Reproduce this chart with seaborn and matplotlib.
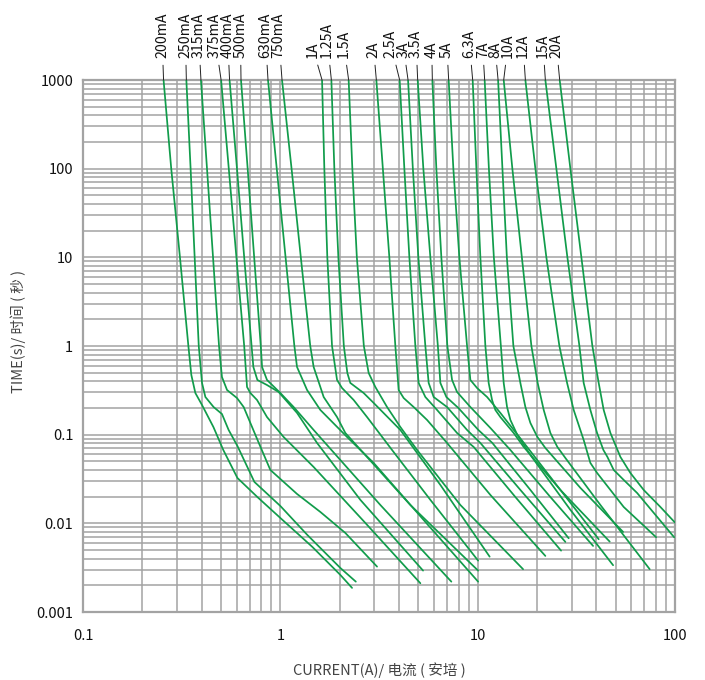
import numpy as np
import pandas as pd
import matplotlib
matplotlib.use("Agg")
import matplotlib.pyplot as plt
import seaborn as sns
from matplotlib.ticker import FixedLocator, NullFormatter, LogLocator

sns.set_theme(style="white")
plt.rcParams["font.family"] = ["Noto Sans CJK SC", "DejaVu Sans"]

# ---------------- data (current in A, time in s) ----------------
ratings = ["200mA", "250mA", "315mA", "375mA", "400mA", "500mA", "630mA", "750mA",
           "1A", "1.25A", "1.5A", "2A", "2.5A", "3A", "3.5A", "4A", "5A",
           "6.3A", "7A", "8A", "10A", "12A", "15A", "20A"]

cur_200mA = [0.256, 0.280, 0.310, 0.342, 0.354, 0.371, 0.401, 0.458, 0.514, 0.606, 0.765, 1.0, 1.453, 2.014, 2.309]
t_200mA = [1000, 100, 10, 1, 0.471, 0.295, 0.216, 0.122, 0.0672, 0.0325, 0.0198, 0.0115, 0.00542, 0.00262, 0.00187]

cur_250mA = [0.334, 0.351, 0.368, 0.386, 0.401, 0.417, 0.459, 0.506, 0.547, 0.606, 0.739, 1.0, 1.37, 2.014, 2.413]
t_250mA = [1000, 100, 10, 1, 0.383, 0.266, 0.205, 0.171, 0.113, 0.0746, 0.0293, 0.0157, 0.0074, 0.00314, 0.0022]

cur_315mA = [0.396, 0.425, 0.456, 0.489, 0.506, 0.537, 0.603, 0.652, 0.705, 0.774, 0.890, 1.215, 1.595, 2.135, 3.091]
t_315mA = [1000, 100, 10, 1, 0.447, 0.319, 0.259, 0.205, 0.1355, 0.0827, 0.040, 0.02145, 0.01344, 0.00779, 0.00325]

cur_375mA = [0.501, 0.548, 0.599, 0.656, 0.678, 0.705, 0.762, 0.856, 1.039, 1.475, 2.697, 5.124]
t_375mA = [1000, 100, 10, 1, 0.345, 0.295, 0.246, 0.158, 0.0942, 0.0432, 0.0101, 0.00211]

cur_400mA = [0.553, 0.603, 0.656, 0.715, 0.730, 0.765, 0.856, 0.980, 1.215, 1.535, 2.544, 5.288]
t_400mA = [1000, 100, 10, 1, 0.580, 0.414, 0.363, 0.303, 0.176, 0.0806, 0.0184, 0.00293]

cur_500mA = [0.632, 0.683, 0.737, 0.796, 0.808, 0.856, 1.0, 1.168, 1.475, 3.213, 7.356]
t_500mA = [1000, 100, 10, 1, 0.580, 0.414, 0.295, 0.205, 0.113, 0.0161, 0.0022]

cur_630mA = [0.866, 0.959, 1.063, 1.178, 1.215, 1.366, 1.595, 2.178, 2.971, 5.431, 10.05]
t_630mA = [1000, 100, 10, 1, 0.580, 0.319, 0.190, 0.0942, 0.048, 0.01037, 0.0022]

cur_750mA = [1.020, 1.140, 1.270, 1.418, 1.475, 1.595, 1.658, 1.938, 2.135, 4.559, 10.05]
t_750mA = [1000, 100, 10, 1, 0.580, 0.345, 0.266, 0.158, 0.1045, 0.0161, 0.00293]

cur_1A = [1.627, 1.671, 1.730, 1.828, 1.938, 2.054, 2.353, 2.751, 3.682, 5.758, 10.05]
t_1A = [1000, 100, 10, 1, 0.414, 0.336, 0.246, 0.158, 0.0672, 0.0184, 0.0038]

cur_1p25A = [1.814, 1.878, 1.968, 2.098, 2.186, 2.263, 2.644, 2.971, 4.057, 6.471, 11.50]
t_1p25A = [1000, 100, 10, 1, 0.496, 0.383, 0.295, 0.228, 0.113, 0.0271, 0.00421]

cur_1p5A = [2.219, 2.317, 2.442, 2.650, 2.803, 3.030, 3.474, 4.057, 4.931, 8.172, 16.99]
t_1p5A = [1000, 100, 10, 1, 0.496, 0.345, 0.205, 0.122, 0.0672, 0.0161, 0.00304]

cur_2A = [3.066, 3.308, 3.568, 3.827, 3.977, 4.217, 4.738, 5.541, 6.997, 11.60, 22.03]
t_2A = [1000, 100, 10, 1, 0.319, 0.259, 0.205, 0.1465, 0.0806, 0.0209, 0.00429]

cur_2p5A = [4.024, 4.251, 4.507, 4.833, 5.023, 5.431, 6.226, 7.862, 9.544, 15.53, 26.47]
t_2p5A = [1000, 100, 10, 1, 0.383, 0.266, 0.190, 0.1045, 0.0727, 0.0198, 0.00492]

cur_3A = [4.438, 4.694, 5.006, 5.431, 5.645, 5.984, 6.997, 8.837, 10.32, 16.46, 27.83]
t_3A = [1000, 100, 10, 1, 0.383, 0.266, 0.205, 0.113, 0.0806, 0.0238, 0.00617]

cur_3p5A = [4.966, 5.306, 5.758, 6.285, 6.471, 6.940, 7.983, 10.08, 11.87, 18.50, 28.92]
t_3p5A = [1000, 100, 10, 1, 0.383, 0.266, 0.200, 0.113, 0.0806, 0.0238, 0.00679]

cur_4A = [5.893, 6.175, 6.546, 7.022, 7.418, 7.862, 9.184, 11.60, 14.65, 23.36, 38.45]
t_4A = [1000, 100, 10, 1, 0.414, 0.303, 0.205, 0.119, 0.0672, 0.0198, 0.00556]

cur_5A = [7.129, 7.530, 8.076, 8.837, 9.184, 9.931, 11.16, 13.03, 17.80, 26.26, 41.05]
t_5A = [1000, 100, 10, 1, 0.414, 0.336, 0.266, 0.176, 0.0727, 0.0238, 0.00662]

cur_6p3A = [9.434, 9.849, 10.32, 10.94, 11.37, 11.83, 12.29, 13.03, 15.22, 17.11, 26.26, 46.67]
t_6p3A = [1000, 100, 10, 1, 0.383, 0.246, 0.190, 0.158, 0.1045, 0.0727, 0.0238, 0.00622]

cur_7A = [10.85, 11.40, 12.08, 13.11, 13.55, 14.09, 14.65, 15.89, 18.50, 29.50, 48.56]
t_7A = [1000, 100, 10, 1, 0.383, 0.205, 0.1465, 0.0993, 0.059, 0.0142, 0.00337]

cur_8A = [12.69, 13.35, 14.06, 15.17, 16.46, 17.45, 18.50, 20.07, 22.03, 33.16, 54.58]
t_8A = [1000, 100, 10, 1, 0.383, 0.205, 0.1355, 0.0942, 0.0708, 0.0251, 0.008]

cur_10A = [13.55, 14.99, 16.75, 18.72, 20.14, 21.61, 23.36, 25.34, 27.83, 41.87, 74.43]
t_10A = [1000, 100, 10, 1, 0.383, 0.190, 0.1045, 0.0727, 0.0546, 0.0161, 0.00304]

cur_12A = [17.45, 19.61, 22.29, 25.95, 28.39, 30.66, 34.45, 37.25, 40.29, 47.06, 54.95, 80.23]
t_12A = [1000, 100, 10, 1, 0.383, 0.190, 0.0871, 0.048, 0.037, 0.0238, 0.0153, 0.00697]

cur_15A = [22.03, 25.05, 28.49, 32.78, 34.45, 37.25, 40.29, 43.36, 45.44, 48.91, 54.95, 64.27, 99.0]
t_15A = [1000, 100, 10, 1, 0.383, 0.190, 0.1045, 0.0672, 0.0561, 0.040, 0.0309, 0.022, 0.00697]

cur_20A = [26.04, 29.50, 33.54, 38.13, 41.05, 43.51, 47.06, 52.88, 59.41, 69.40, 84.33, 100.0]
t_20A = [1000, 100, 10, 1, 0.383, 0.190, 0.1045, 0.0561, 0.037, 0.0238, 0.0153, 0.0102]

curves = [(cur_200mA, t_200mA), (cur_250mA, t_250mA), (cur_315mA, t_315mA),
          (cur_375mA, t_375mA), (cur_400mA, t_400mA), (cur_500mA, t_500mA),
          (cur_630mA, t_630mA), (cur_750mA, t_750mA), (cur_1A, t_1A),
          (cur_1p25A, t_1p25A), (cur_1p5A, t_1p5A), (cur_2A, t_2A),
          (cur_2p5A, t_2p5A), (cur_3A, t_3A), (cur_3p5A, t_3p5A), (cur_4A, t_4A),
          (cur_5A, t_5A), (cur_6p3A, t_6p3A), (cur_7A, t_7A), (cur_8A, t_8A),
          (cur_10A, t_10A), (cur_12A, t_12A), (cur_15A, t_15A), (cur_20A, t_20A)]

x_ticks = [0.1, 1, 10, 100]
x_tick_labels = ["0.1", "1", "10", "100"]
y_ticks = [0.001, 0.01, 0.1, 1, 10, 100, 1000]
y_tick_labels = ["0.001", "0.01", "0.1", "1", "10", "100", "1000"]

# ---------------- layout / style ----------------
label_dx_px = [-1.6, -1, -2.4, -6.5, -2, -0.6, -2.7, -3.4, -8.8, -4.2, -5, -2.7,
               -9.0, -4.2, -1.6, -0.6, -1.6, -3.2, -1.8, -2.8, 4.2, -2.3, -2.3, -3.3]
GREEN = "#119c4b"
GRID = "#a3a3a3"

frames = [pd.DataFrame({"current": c, "time": t, "rating": r})
          for r, (c, t) in zip(ratings, curves)]
df = pd.concat(frames, ignore_index=True)

fig = plt.figure(figsize=(7.05, 6.8), dpi=100)
ax = fig.add_axes([83 / 705, 68 / 680, 592 / 705, 532 / 680])
ax.set_xscale("log")
ax.set_yscale("log")

sns.lineplot(data=df, x="current", y="time", units="rating", estimator=None,
             sort=False, color=GREEN, lw=1.25, ax=ax, legend=False, zorder=3)

ax.set_xlim(0.1, 100)
ax.set_ylim(0.001, 1000)
ax.xaxis.set_major_locator(FixedLocator(x_ticks))
ax.set_xticklabels(x_tick_labels)
ax.yaxis.set_major_locator(FixedLocator(y_ticks))
ax.set_yticklabels(y_tick_labels)
ax.xaxis.set_minor_locator(LogLocator(base=10, subs=np.arange(2, 10)))
ax.yaxis.set_minor_locator(LogLocator(base=10, subs=np.arange(2, 10)))
ax.xaxis.set_minor_formatter(NullFormatter())
ax.yaxis.set_minor_formatter(NullFormatter())
ax.grid(True, which="both", color=GRID, lw=1.1)
ax.set_axisbelow(True)
ax.tick_params(which="both", length=0, labelsize=10.5, colors="#111111")
ax.tick_params(axis="x", pad=12)
ax.tick_params(axis="y", pad=7)
for s in ax.spines.values():
    s.set_color(GRID)
    s.set_linewidth(1.6)
ax.set_xlabel("")
ax.set_ylabel("")

for r, (c, t), dx in zip(ratings, curves, label_dx_px):
    ax.annotate(r, xy=(c[0], t[0]), xycoords="data",
                xytext=(dx * 0.72, 16), textcoords="offset points",
                rotation=90, ha="center", va="bottom", fontsize=10.2, color="#111111",
                arrowprops=dict(arrowstyle="-", color="#222222", lw=0.7,
                                shrinkA=3, shrinkB=0),
                annotation_clip=False)

fig.text(379 / 705, 1 - 670 / 680, "CURRENT(A)/ 电流 ( 安培 )", ha="center",
         va="center", fontsize=10.5, color="#444444")
fig.text(18 / 705, 1 - 331 / 680, "TIME(s)/ 时间 ( 秒 )", ha="center", va="center",
         rotation=90, fontsize=10.5, color="#444444")

fig.savefig("out.png", dpi=100)
